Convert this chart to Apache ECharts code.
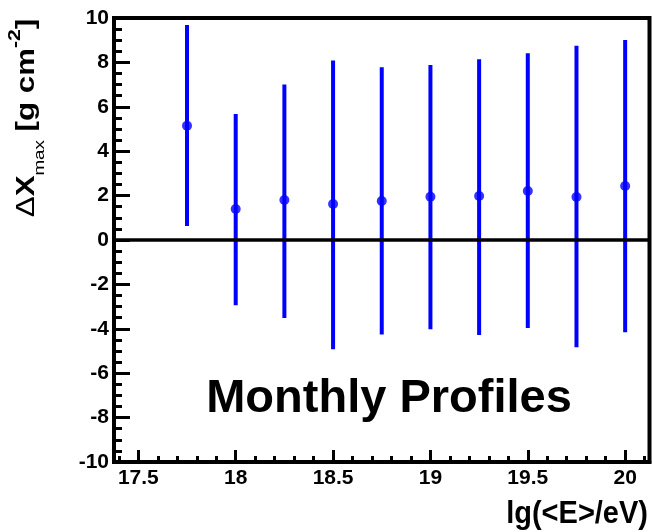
<!DOCTYPE html>
<html>
<head>
<meta charset="utf-8">
<script src="https://cdn.jsdelivr.net/npm/echarts@6/dist/echarts.min.js"></script>
<style>html,body{margin:0;padding:0;background:#fff;}#c{width:652px;height:532px;}</style>
</head>
<body>
<div id="c"></div>
<script>
var energies = [17.75, 18.0, 18.25, 18.5, 18.75, 19.0, 19.25, 19.5, 19.75, 20.0];
var deltaX   = [5.15, 1.40, 1.80, 1.62, 1.76, 1.95, 1.98, 2.21, 1.94, 2.43];
var errHigh  = [9.68, 5.68, 7.01, 8.09, 7.78, 7.88, 8.14, 8.41, 8.75, 9.01];
var errLow   = [0.63, -2.94, -3.51, -4.92, -4.26, -4.02, -4.28, -3.96, -4.83, -4.16];
var xRange = [17.375, 20.125];
var yRange = [-10, 10];
var yInterval = 2;

var points = energies.map(function (e, i) { return [e, deltaX[i]]; });
var bars = energies.map(function (e, i) { return [e, errLow[i], errHigh[i]]; });

var FONT = '"Liberation Sans", Arial, Helvetica, sans-serif';
var blue = '#0000ff';

var chart = echarts.init(document.getElementById('c'), null, {renderer: 'canvas'});
chart.setOption({
  animation: false,
  backgroundColor: '#fff',
  grid: {left: 114, right: 2.5, top: 18, bottom: 70, show: true, borderColor: '#000', borderWidth: 4, backgroundColor: 'transparent'},
  xAxis: [{
    type: 'value', min: xRange[0], max: xRange[1], splitNumber: 5,
    axisLine: {show: true, onZero: false, lineStyle: {color: '#000', width: 4}},
    axisTick: {show: true, inside: true, length: 12, lineStyle: {color: '#000', width: 3}},
    axisLabel: {show: true, showMinLabel: false, showMaxLabel: false, color: '#000', fontFamily: FONT, fontWeight: 'bold', fontSize: 21, margin: 6},
    splitLine: {show: false}
  }, {
    type: 'value', min: xRange[0], max: xRange[1], splitNumber: 25, position: 'bottom',
    axisLine: {show: false, onZero: false},
    axisTick: {show: true, inside: true, length: 6, lineStyle: {color: '#000', width: 3}},
    axisLabel: {show: false},
    splitLine: {show: false}
  }],
  yAxis: {
    type: 'value', min: yRange[0], max: yRange[1], interval: yInterval,
    axisLine: {show: true, onZero: false, lineStyle: {color: '#000', width: 4}},
    axisTick: {show: true, inside: true, length: 16, lineStyle: {color: '#000', width: 3}},
    minorTick: {show: true, splitNumber: 4, length: 8, lineStyle: {color: '#000', width: 3}},
    axisLabel: {color: '#000', fontFamily: FONT, fontWeight: 'bold', fontSize: 21, margin: 5},
    splitLine: {show: false}
  },
  graphic: [
    {type: 'text', x: 389, y: 399, z: 100, style: {text: 'Monthly Profiles', fill: '#000', font: 'bold 47px ' + FONT, align: 'center', verticalAlign: 'middle'}},
    {type: 'text', x: 648, y: 514, scaleY: 1.08, z: 100, style: {text: 'lg(<E>/eV)', fill: '#000', font: 'bold 29px ' + FONT, align: 'right', verticalAlign: 'middle'}},
    {type: 'text', x: 27, y: 118, rotation: Math.PI / 2, scaleX: 1.25, z: 100, style: {
      text: '{d|Δ}{m|X}{s|max}{m| [g cm}{p|-2}{m|]}',
      align: 'center', verticalAlign: 'middle',
      rich: {
        d: {fontFamily: FONT, fontWeight: 'normal', fontSize: 25, lineHeight: 40, fill: '#000', color: '#000'},
        m: {fontFamily: FONT, fontWeight: 'bold', fontSize: 25, lineHeight: 40, fill: '#000', color: '#000'},
        s: {fontFamily: FONT, fontWeight: 'normal', fontSize: 15, lineHeight: 15, verticalAlign: 'bottom', fill: '#000', color: '#000'},
        p: {fontFamily: FONT, fontWeight: 'bold', fontSize: 17, lineHeight: 17.5, verticalAlign: 'top', fill: '#000', color: '#000'}
      }
    }}
  ],
  series: [
    {
      type: 'custom', name: 'err', xAxisIndex: 0, yAxisIndex: 0, z: 3,
      data: bars,
      encode: {x: 0, y: [1, 2]},
      renderItem: function (params, api) {
        var x = api.value(0);
        var p1 = api.coord([x, api.value(1)]);
        var p2 = api.coord([x, api.value(2)]);
        return {type: 'line', shape: {x1: p1[0], y1: p1[1], x2: p2[0], y2: p2[1]}, style: {stroke: blue, lineWidth: 4}};
      }
    },
    {
      type: 'scatter', name: 'pts', xAxisIndex: 0, yAxisIndex: 0, z: 4,
      data: points, symbol: 'circle', symbolSize: 10,
      itemStyle: {color: blue}
    },
    {
      type: 'line', name: 'zero', xAxisIndex: 0, yAxisIndex: 0, z: 5, data: [],
      markLine: {silent: true, symbol: 'none', label: {show: false}, data: [{yAxis: 0}], lineStyle: {color: '#000', width: 3.5, type: 'solid'}, z: 5}
    }
  ]
});
</script>
</body>
</html>
